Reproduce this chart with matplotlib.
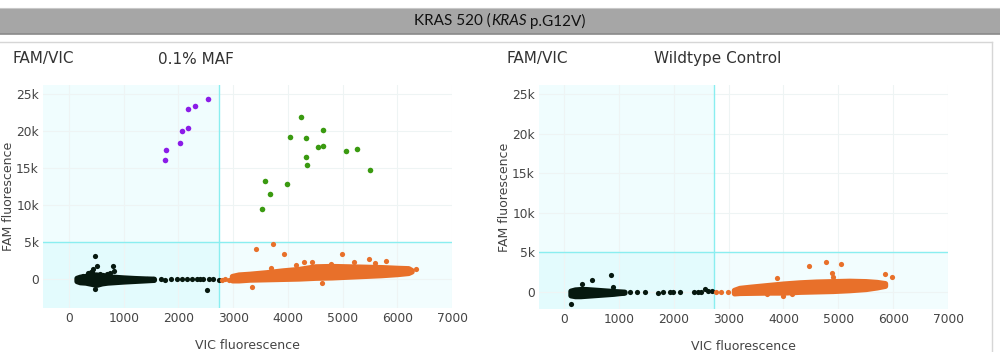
import matplotlib
matplotlib.use("Agg")
import matplotlib.pyplot as plt
from matplotlib.patches import Rectangle
from matplotlib.lines import Line2D

# ---- data ----
header = ["KRAS 520 (", "KRAS", " p.G12V)"]
titles = ["0.1% MAF", "Wildtype Control"]
x_ticks = [0, 1000, 2000, 3000, 4000, 5000, 6000, 7000]
y_ticks = [0, 5000, 10000, 15000, 20000, 25000]
y_labels = ["0", "5k", "10k", "15k", "20k", "25k"]
vic_thr = [2745, 2740]
fam_thr = 5000

# left panel (0.1% MAF)
purple_vic = [2541, 2303, 2175, 2181, 2060, 2029, 1779, 1755]
purple_fam = [24284, 23378, 22970, 20400, 20000, 18330, 17430, 16130]

green_vic = [4247, 4637, 4046, 4327, 4546, 4650, 4327, 4351, 3589, 3991, 3675, 3523, 5064, 5271, 5509]
green_fam = [21930, 20135, 19190, 19054, 17838, 18018, 16486, 15360, 13200, 12880, 11530, 9500, 17300, 17570, 14690]

l_blk_band_x = [140, 200, 300, 400, 500, 600, 700, 800, 1000, 1200, 1400, 1550]
l_blk_band_hi = [150, 300, 400, 600, 600, 450, 350, 300, 200, 120, 60, 30]
l_blk_band_lo = [-250, -400, -450, -600, -750, -550, -450, -400, -300, -220, -140, -80]
l_blk_vic = [475, 506, 444, 798, 829, 750, 396, 475, 2529, 262, 560, 620, 690, 350, 420,
             1420, 1541, 1676, 1755, 1865, 1969, 2060, 2151, 2243, 2334, 2395, 2455, 2565, 2638, 2742]
l_blk_fam = [3150, 1800, 1390, 1710, 1080, 770, 900, -1310, -1440, 405, 700, 600, 650, 800, 1000,
             20, -30, 40, -60, 0, 30, -40, 60, -20, 10, -50, 40, -10, 30, -60]

l_org_band_x = [2980, 3100, 3300, 3600, 3900, 4200, 4500, 4800, 5100, 5400, 5700, 6000, 6200, 6260]
l_org_band_hi = [400, 600, 700, 900, 1150, 1350, 1700, 1750, 1700, 1650, 1600, 1500, 1450, 1200]
l_org_band_lo = [-150, -150, -50, 0, 50, 100, 200, 250, 350, 450, 550, 700, 850, 1050]
l_org_vic = [3419, 3724, 3937, 4302, 4449, 4985, 5478, 5790, 3340, 4620, 6338, 2919, 3687,
             2790, 2850, 5200, 5600, 4150, 4780]
l_org_fam = [4100, 4770, 3330, 2340, 2300, 3330, 2700, 2430, -1130, -550, 1310, -135, 1490,
             -60, 20, 2300, 2200, 1900, 2100]

# right panel (wildtype control)
r_blk_band_x = [120, 200, 300, 400, 500, 600, 700, 800, 900, 1000, 1100]
r_blk_band_hi = [150, 300, 350, 350, 300, 250, 200, 150, 100, 60, 20]
r_blk_band_lo = [-400, -500, -500, -450, -400, -350, -300, -250, -200, -120, -60]
r_blk_vic = [133, 328, 510, 857, 899, 1203, 1325, 1476, 1719, 1810, 1932, 1981, 2114,
             2370, 2449, 2497, 2570, 2631, 2692]
r_blk_fam = [-1470, 970, 1470, 2100, 590, -40, 0, -40, -80, -40, 0, -60, -40,
             -30, 0, 40, 320, 150, 80]

r_org_band_x = [3100, 3200, 3400, 3700, 4000, 4300, 4600, 4900, 5200, 5500, 5700, 5850]
r_org_band_hi = [250, 500, 650, 850, 1050, 1200, 1300, 1350, 1400, 1350, 1250, 1100]
r_org_band_lo = [-150, -100, -80, -50, -50, 50, 100, 150, 250, 400, 600, 800]
r_org_vic = [2771, 2856, 2984, 4472, 4770, 5049, 4879, 4910, 5851, 5979, 3888, 3986, 4162, 3700]
r_org_fam = [-40, -40, -40, 3280, 3830, 3530, 2440, 1850, 2230, 1890, 1810, -505, -290, -200]

BLACK = "#06180f"
ORANGE = "#e8702a"
PURPLE = "#8b1ce8"
GREEN = "#3a9a10"
CYAN = "#00e8ee"

plt.rcParams["font.family"] = ["DejaVu Sans"]
fig = plt.figure(figsize=(10, 3.52), dpi=100)

# header bar and panel frame
fig.patches.append(Rectangle((0, 1 - 34 / 352), 1, 26 / 352, transform=fig.transFigure,
                             facecolor="#a6a6a6", edgecolor="none", zorder=0))
fig.lines.append(Line2D([0, 1], [1 - 34 / 352] * 2, transform=fig.transFigure, color="#8a8a8a", lw=1.2))
fig.lines.append(Line2D([0, 1], [1 - 8 / 352] * 2, transform=fig.transFigure, color="#c8c8c8", lw=0.8))
fig.lines.append(Line2D([0, 0.992], [1 - 42 / 352] * 2, transform=fig.transFigure, color="#d6d6d6", lw=1))
fig.lines.append(Line2D([0.992, 0.992], [0, 1 - 42 / 352], transform=fig.transFigure, color="#d6d6d6", lw=1))

# header text, with the gene name in italics
r = fig.canvas.get_renderer()
parts = []
for i, s in enumerate(header):
    t = fig.text(0, 1 - 21 / 352, s, fontsize=11, family="Lato",
                 style="italic" if i == 1 else "normal", va="center", color="#111111")
    parts.append(t)
widths = [t.get_window_extent(r).width for t in parts]
x0 = (1000 - sum(widths)) / 2
for t, w in zip(parts, widths):
    t.set_x(x0 / 1000)
    x0 += w

fig.text(12 / 1000, 1 - 59 / 352, "FAM/VIC", fontsize=11, va="center", color="#333333")
fig.text(158 / 1000, 1 - 59 / 352, titles[0], fontsize=11, va="center", color="#333333")
fig.text(507 / 1000, 1 - 59 / 352, "FAM/VIC", fontsize=11, va="center", color="#333333")
fig.text(654 / 1000, 1 - 59 / 352, titles[1], fontsize=11, va="center", color="#333333")

panels = [
    dict(rect=[0.043, 0.125, 0.409, 0.6335], xlim=(-475, 7000), ylim=(-3900, 26200), thr=vic_thr[0],
         blk=(l_blk_band_x, l_blk_band_hi, l_blk_band_lo, l_blk_vic, l_blk_fam),
         org=(l_org_band_x, l_org_band_hi, l_org_band_lo, l_org_vic, l_org_fam),
         extra=[(purple_vic, purple_fam, PURPLE), (green_vic, green_fam, GREEN)]),
    dict(rect=[0.539, 0.122, 0.409, 0.636], xlim=(-456, 7000), ylim=(-2150, 26100), thr=vic_thr[1],
         blk=(r_blk_band_x, r_blk_band_hi, r_blk_band_lo, r_blk_vic, r_blk_fam),
         org=(r_org_band_x, r_org_band_hi, r_org_band_lo, r_org_vic, r_org_fam),
         extra=[]),
]

for p in panels:
    ax = fig.add_axes(p["rect"])
    ax.set_xlim(*p["xlim"])
    ax.set_ylim(*p["ylim"])
    for s in ax.spines.values():
        s.set_visible(False)
    ax.set_xticks(x_ticks)
    ax.set_yticks(y_ticks)
    ax.set_yticklabels(y_labels)
    ax.tick_params(length=0, labelsize=8.8, labelcolor="#444444", pad=3)
    ax.grid(True, color="#eef4f4", lw=0.8)
    ax.set_axisbelow(True)

    # quadrant shading
    ax.axvspan(p["xlim"][0], p["thr"], color=CYAN, alpha=0.06, lw=0, zorder=0.5)
    ax.axhspan(p["ylim"][0], fam_thr, color=CYAN, alpha=0.05, lw=0, zorder=0.5)
    ax.axvline(p["thr"], color="#8aeef0", lw=1, zorder=1)
    ax.axhline(fam_thr, color="#8aeef0", lw=1, zorder=1)

    # dense droplet clusters drawn as their outline, sparse droplets as dots
    for (bx, bhi, blo, sx, sy), col in [(p["blk"], BLACK), (p["org"], ORANGE)]:
        ax.fill_between(bx, blo, bhi, color=col, lw=4, edgecolor=col, joinstyle="round",
                        capstyle="round", zorder=2)
        ax.scatter(sx, sy, s=14, color=col, lw=0, zorder=3)
    for sx, sy, col in p["extra"]:
        ax.scatter(sx, sy, s=16, color=col, lw=0, zorder=3)

    ax.set_ylabel("FAM fluorescence", fontsize=9, color="#444444")
    ax.set_xlabel("VIC fluorescence", fontsize=9, color="#444444")
    ax.yaxis.set_label_coords(-0.069, 0.5)
    ax.xaxis.set_label_coords(0.5, -0.14)

fig.savefig("out.png", dpi=100)
